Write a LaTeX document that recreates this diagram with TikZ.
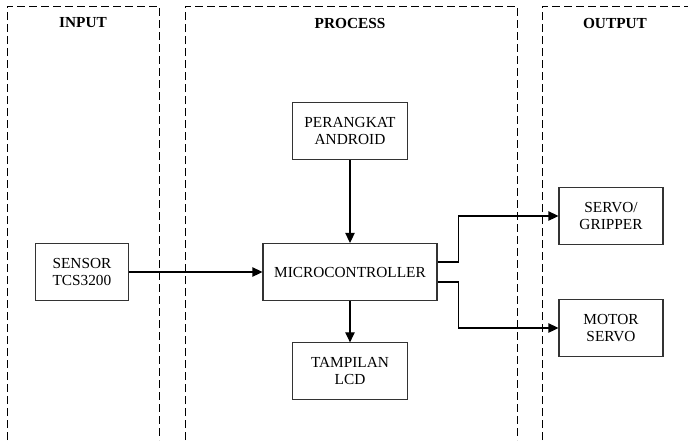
\documentclass[tikz,border=0pt]{standalone}
\usepackage{fontspec}
\setmainfont{Liberation Serif}
\usepackage{tikz}
\usetikzlibrary{positioning,arrows.meta}
\tikzset{
  every node/.style={font=\fontsize{11.5}{12.75}\selectfont},
  block/.style={
    rectangle, draw=black!80, line width=0.8pt,
    minimum height=42.75pt, inner sep=2pt,
    align=center
  },
  head/.style={font=\fontsize{11.5}{12.75}\selectfont\bfseries},
  panel/.style={
    draw=black, line width=0.75pt,
    dash pattern=on 6pt off 3pt
  },
  arrow/.style={
    -{Triangle[length=7.5pt,width=7pt]},
    line width=0.9pt, draw=black
  },
}
\begin{document}
\begin{tikzpicture}[x=0.75pt, y=-0.75pt]
  \useasboundingbox (0,0) rectangle (688,440);

  % dashed panels
  \draw[panel] (7,440) |- (159,6) -- (159,440);
  \draw[panel] (185,440) |- (517,6) -- (517,440);
  \draw[panel] (542,440) |- (688,6);
  \node[head] (hinput) at (83,23) {INPUT};
  \node[head] (hprocess) at (350,23) {PROCESS};
  \node[head] (houtput) at (615,23) {OUTPUT};

  % blocks
  \node[block, minimum width=130.5pt] (mcu) at (350,272) {MICROCONTROLLER};
  \node[block, minimum width=86pt, above=62pt of mcu] (android) {PERANGKAT\\ANDROID};
  \node[block, minimum width=86pt, below=31pt of mcu] (lcd) {TAMPILAN\\LCD};
  \node[block, minimum width=70pt, left=100pt of mcu] (sensor) {SENSOR\\TCS3200};
  \node[block, minimum width=78pt] (servo) at (611,216) {SERVO/\\GRIPPER};
  \node[block, minimum width=78pt] (motor) at (611,328) {MOTOR\\SERVO};

  % connectors
  \draw[arrow] (sensor) -- (mcu);
  \draw[arrow] (android) -- (mcu);
  \draw[arrow] (mcu) -- (lcd);
  \draw[arrow] ([yshift=7.5pt]mcu.east) -- ++(21,0) |- (servo.west);
  \draw[arrow] ([yshift=-7.5pt]mcu.east) -- ++(21,0) |- (motor.west);
\end{tikzpicture}
\end{document}
